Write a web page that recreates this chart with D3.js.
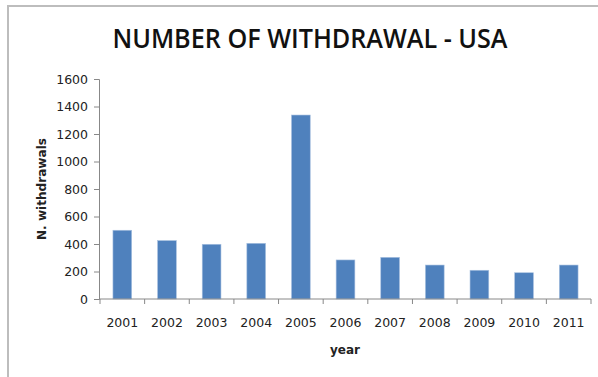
<!DOCTYPE html>
<html>
<head>
<meta charset="utf-8">
<script src="https://cdn.jsdelivr.net/npm/d3@7/dist/d3.min.js"></script>
<style>
  body { margin: 0; background: #fff; }
  svg { display: block; }
</style>
</head>
<body>
<script>
// values
const years = ['2001', '2002', '2003', '2004', '2005', '2006', '2007', '2008', '2009', '2010', '2011']
const withdrawals = [500, 425, 398, 405, 1338, 284, 303, 247, 209, 191, 247]
const yTicks = [0, 200, 400, 600, 800, 1000, 1200, 1400, 1600]

const WIDTH = 598
const HEIGHT = 377
const LEFT = 100, RIGHT = 591, TOP = 79, BOTTOM = 299

const svg = d3.select('body').append('svg').attr('width', WIDTH).attr('height', HEIGHT)

// chart frame (only top and left edges show)
svg.append('path')
  .attr('d', `M8,${HEIGHT} V6 H${WIDTH}`)
  .attr('fill', 'none')
  .attr('stroke', '#bdbdbd')
  .attr('stroke-width', 2)

svg.append('text')
  .attr('x', 310).attr('y', 48)
  .attr('text-anchor', 'middle')
  .attr('font-family', 'Open Sans, sans-serif')
  .attr('font-size', 27)
  .attr('font-weight', 600)
  .attr('textLength', 395)
  .attr('lengthAdjust', 'spacingAndGlyphs')
  .attr('fill', '#111')
  .text('NUMBER OF WITHDRAWAL - USA')

const x = d3.scaleBand().domain(years).range([LEFT, RIGHT]).paddingInner(0.58).paddingOuter(0.29)
const y = d3.scaleLinear().domain([0, 1600]).range([BOTTOM, TOP])

svg.selectAll('rect')
  .data(withdrawals)
  .enter()
  .append('rect')
  .attr('x', (d, i) => x(years[i]))
  .attr('width', x.bandwidth())
  .attr('y', d => y(d))
  .attr('height', d => BOTTOM - y(d))
  .attr('fill', '#4f81bd')
  .attr('stroke', '#a9c1e0')
  .attr('stroke-width', 0.6)

// y axis
const yAxis = svg.append('g')
  .attr('transform', `translate(${LEFT - 1},0)`)
  .call(d3.axisLeft(y).tickValues(yTicks).tickSize(5).tickPadding(6).tickFormat(d3.format('d')))
yAxis.select('.domain').attr('stroke', '#888')
yAxis.selectAll('.tick line').attr('stroke', '#888')
yAxis.selectAll('text')
  .attr('font-family', 'DejaVu Sans, sans-serif')
  .attr('font-size', 12.5)
  .attr('fill', '#222')

// x axis, ticks between categories like Excel
const xAxis = svg.append('g').attr('transform', `translate(0,${BOTTOM})`)
const bounds = d3.range(years.length + 1).map(i => LEFT + i * (RIGHT - LEFT) / years.length)
xAxis.append('line')
  .attr('x1', LEFT - 1).attr('x2', RIGHT)
  .attr('stroke', '#888')
xAxis.selectAll('line.tk')
  .data(bounds)
  .enter()
  .append('line')
  .attr('class', 'tk')
  .attr('x1', d => d).attr('x2', d => d)
  .attr('y1', 0).attr('y2', 5)
  .attr('stroke', '#888')
xAxis.selectAll('text')
  .data(years)
  .enter()
  .append('text')
  .attr('x', d => x(d) + x.bandwidth() / 2)
  .attr('y', 28)
  .attr('text-anchor', 'middle')
  .attr('font-family', 'DejaVu Sans, sans-serif')
  .attr('font-size', 12.5)
  .attr('fill', '#222')
  .text(d => d)

svg.append('text')
  .attr('x', 345).attr('y', 354)
  .attr('text-anchor', 'middle')
  .attr('font-family', 'DejaVu Sans, sans-serif')
  .attr('font-size', 12)
  .attr('font-weight', 'bold')
  .attr('fill', '#222')
  .text('year')

svg.append('text')
  .attr('transform', 'translate(46,189) rotate(-90)')
  .attr('text-anchor', 'middle')
  .attr('font-family', 'DejaVu Sans, sans-serif')
  .attr('font-size', 13)
  .attr('font-weight', 'bold')
  .attr('textLength', 102)
  .attr('lengthAdjust', 'spacingAndGlyphs')
  .attr('fill', '#222')
  .text('N. withdrawals')
</script>
</body>
</html>
